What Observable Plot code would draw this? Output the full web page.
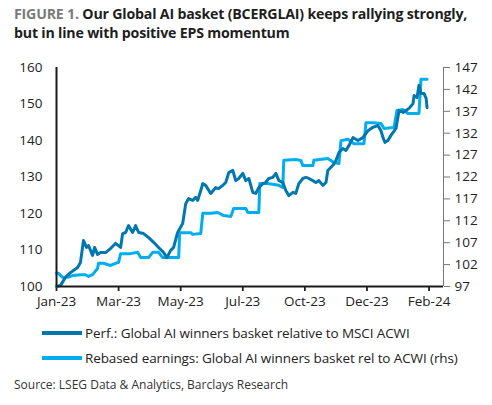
<!DOCTYPE html>
<html><head><meta charset="utf-8">
<script src="https://cdn.jsdelivr.net/npm/d3@7"></script>
<script src="https://cdn.jsdelivr.net/npm/@observablehq/plot@0.6"></script>
<style>
body{margin:0;width:492px;height:405px;position:relative;font-family:"Open Sans","Noto Sans",sans-serif;background:#fff;overflow:hidden}
.tl{position:absolute;left:14px;font-size:14.2px;line-height:19px;font-weight:700;color:#1e1e1e;letter-spacing:-0.2px;white-space:nowrap}
.grey{color:#7a7a7a}
#chart{position:absolute;left:0;top:50px}
#legend{position:absolute;left:42px;top:320px;font-size:13.5px;color:#222}
.li{display:flex;align-items:center;height:25px;letter-spacing:-0.1px}
.sw{width:40px;height:4px;margin-right:3px}
#source{position:absolute;left:14px;top:376px;font-size:12px;color:#333}
</style></head>
<body>
<div class="tl" style="top:4px"><span class="grey">FIGURE 1.</span> <span>Our Global AI basket (BCERGLAI) keeps rallying strongly,</span></div>
<div class="tl" style="top:23px">but in line with positive EPS momentum</div>
<div id="chart"></div>
<div id="legend"></div>
<div id="source">Source: LSEG Data &amp; Analytics, Barclays Research</div>
<script>
// x-axis categories (trading-day index positions of labels)
const tickDays = [0, 43, 86, 129, 172, 215, 258];
const tickLabels = ["Jan-23", "Mar-23", "May-23", "Jul-23", "Oct-23", "Dec-23", "Feb-24"];
const leftTicks = [100, 110, 120, 130, 140, 150, 160];
const rightTicks = [97, 102, 107, 112, 117, 122, 127, 132, 137, 142, 147];

// Perf.: Global AI winners basket relative to MSCI ACWI (lhs)
const perfDays = [0,2.8,6.2,9.7,14.6,16.6,18.7,20.8,22.2,25,26.4,28.4,30.5,34,37.4,40.9,44.4,45.8,47.9,49.9,52.7,54.8,56.9,60.3,63.8,67.3,70.7,74.2,76.3,79.1,81.1,83.9,87.4,89.5,91.5,94.3,96.4,97.8,99.9,101.3,103.3,106.8,110.3,112.3,115.1,117.2,119.3,122.1,124.1,126.2,129,131.1,133.2,135.9,138,140.1,142.9,144.9,147,149.8,151.9,154,156.7,158.8,160.9,163.7,165.7,167.8,170.6,172.7,174.8,177.5,179.6,181.7,184.5,186.6,187.9,191.4,193.5,195.6,198.3,200.4,202.5,205.3,208.7,212.2,215.7,219.1,222.6,224.7,226.1,227.5,229.5,231.6,235.1,237.2,240,242,244.1,246.9,247.6,249.7,251,252.4,254.5,256,256.6];
const perfVals = [100,100.3,102.5,103.8,105.2,106.6,112.6,110.7,111.2,108.5,110.7,108.8,109.3,109.3,110.4,111.8,110.7,114.5,114.8,116.7,114.8,116.7,114.8,114.5,113.4,112.1,110.7,109.3,107.9,109.9,110.7,114.8,117.3,122.7,124.1,123.6,124.4,123.6,126.3,128.2,127.7,125.5,127.1,126.8,127.7,128.5,131.2,131.8,129.0,129.6,131.0,129.0,129.6,125.8,125.5,127.1,128.2,128.5,129.6,129.9,131.0,129.0,128.5,126.3,124.9,125.8,125.5,128.2,129.6,129.9,129.6,129.0,128.5,129.0,127.7,128.5,131.8,133.2,134.5,136.7,137.8,137.3,138.6,140.8,140.0,140.8,142.7,143.6,144.1,142.7,140.8,139.5,140.0,141.4,143.3,148.2,147.7,148.2,148.8,150.1,152.3,151.8,155.1,152.9,152.9,151.5,149.0];

// Rebased earnings: Global AI winners basket rel to ACWI (rhs)
const epsDays = [0,1.4,4.2,7.6,11.1,16.6,20.1,22.2,25,28.4,29.1,32.6,37.4,40.9,43,44.4,51.3,56.2,58.3,63.8,66.6,70.7,73.5,84.6,85.3,92.9,94.3,99.9,101.3,106.8,111.7,115.8,120.7,122.7,131.1,132.5,140.1,140.8,146.3,154,156.7,157.4,165.7,169.2,170.6,177.5,178.2,187.9,192.1,195.6,197,201.8,206,212.9,214.3,219.8,224.7,226.8,233.7,235.8,240,243.4,251,252.4,256.6];
const epsVals = [100,100,99.1,99.1,99.5,99.7,99.7,99.3,99.7,101.1,102.3,102.3,101.8,102.3,102.5,104.5,104.5,104.8,103.6,103.6,104.8,104.8,103.6,103.6,109.3,109.3,108.9,109.1,113.7,113.7,113.9,113.2,113.0,114.8,114.8,113.9,113.9,120.5,120.5,120.1,119.6,125.8,126.0,125.8,124.6,124.6,125.8,126.2,125.3,125.1,130.3,130.6,129.6,129.6,134.4,134.4,134.2,133.1,133.3,137.2,137.4,136.5,136.5,144.3,144.3];

const seriesNames = ["Perf.: Global AI winners basket relative to MSCI ACWI", "Rebased earnings: Global AI winners basket rel to ACWI (rhs)"];
const colors = ["#0077ae", "#00aeef"];

// map rhs (97..147) onto lhs (100..160)
const toLeft = v => 100 + (v - 97) * 60 / 50;
const fromLeft = v => 97 + (v - 100) * 50 / 60;

const perf = perfDays.map((d, i) => ({d, v: perfVals[i]}));
const eps = epsDays.map((d, i) => ({d, v: toLeft(epsVals[i])}));

const xMax = 268;
const chart = Plot.plot({
  width: 492, height: 270,
  marginTop: 17, marginBottom: 34, marginLeft: 56, marginRight: 49,
  style: {fontFamily: '"Open Sans","Noto Sans",sans-serif', fontSize: "13px", color: "#222"},
  x: {domain: [0, xMax]},
  y: {domain: [100, 160]},
  marks: [
    Plot.axisX({ticks: tickDays, tickFormat: d => tickLabels[tickDays.indexOf(d)], tickSize: 5, tickPadding: 5, stroke: "#222", strokeWidth: 1.8, label: null, fontSize: 13.5}),
    Plot.axisY({ticks: leftTicks, tickSize: 0, tickPadding: 14, label: null, fontSize: 13.5}),
    Plot.axisY({anchor: "right", ticks: rightTicks.map(toLeft), tickFormat: d => Math.round(fromLeft(d)), tickSize: 6, tickPadding: 5, stroke: "#777", label: null, fontSize: 13.5}),
    Plot.ruleX([xMax], {stroke: "#777", strokeWidth: 1}),
    Plot.line(eps, {x: "d", y: "v", stroke: colors[1], strokeWidth: 3}),
    Plot.line(perf, {x: "d", y: "v", stroke: colors[0], strokeWidth: 3}),
    Plot.ruleX([0], {stroke: "#1a1a1a", strokeWidth: 2}),
    Plot.ruleY([100], {stroke: "#1a1a1a", strokeWidth: 2})
  ]
});
document.getElementById("chart").appendChild(chart);

const leg = document.getElementById("legend");
seriesNames.forEach((n, i) => {
  const row = document.createElement("div");
  row.className = "li";
  row.innerHTML = `<div class="sw" style="background:${colors[i]}"></div><div>${n}</div>`;
  leg.appendChild(row);
});
</script>
</body></html>
